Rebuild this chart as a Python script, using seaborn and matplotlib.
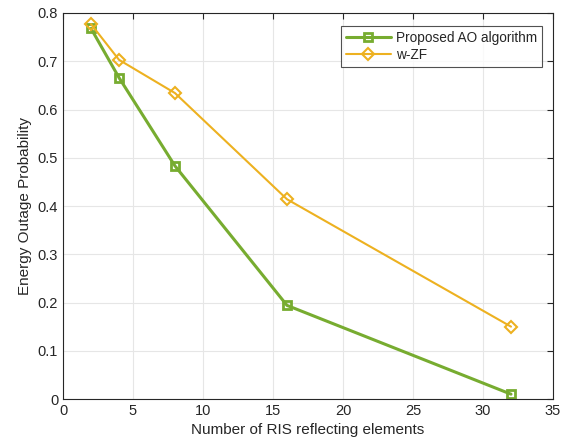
import pandas as pd
import seaborn as sns
import matplotlib.pyplot as plt

n_elements = [2, 4, 8, 16, 32]
proposed_ao = [0.768, 0.666, 0.483, 0.194, 0.010]
w_zf = [0.777, 0.703, 0.634, 0.414, 0.150]

df = pd.DataFrame({"N": n_elements * 2,
                   "p": proposed_ao + w_zf,
                   "method": ["Proposed AO algorithm"] * 5 + ["w-ZF"] * 5})

sns.set_style("whitegrid", {"grid.color": "#e6e6e6", "axes.edgecolor": "#262626"})
plt.rcParams["font.family"] = ["Liberation Sans", "DejaVu Sans"]

fig = plt.figure(figsize=(5.68, 4.48), dpi=100)
ax = fig.add_axes([63 / 568, 49 / 448, 490 / 568, 386 / 448])

ax = sns.lineplot(data=df, x="N", y="p", hue="method", style="method",
                  palette=["#77AC30", "#EDB120"], markers=["s", "D"], dashes=False,
                  ax=ax)
lws = [2.2, 1.5]
mss = [5.5, 6.5]
mews = [2.0, 1.5]
for line, lw, ms, mew in zip(ax.lines[:2], lws, mss, mews):
    line.set_linewidth(lw)
    line.set_markersize(ms)
    line.set_markerfacecolor("none")
    line.set_markeredgecolor(line.get_color())
    line.set_markeredgewidth(mew)

ax.set_xlim(0, 35)
ax.set_ylim(0, 0.8)
ax.set_xticks(range(0, 36, 5))
ax.set_yticks([0, 0.1, 0.2, 0.3, 0.4, 0.5, 0.6, 0.7, 0.8])
ax.set_yticklabels(["0", "0.1", "0.2", "0.3", "0.4", "0.5", "0.6", "0.7", "0.8"])
ax.tick_params(labelsize=10.5, colors="#262626", direction="in", length=4,
               top=True, right=True)
ax.set_xlabel("Number of RIS reflecting elements", fontsize=11, color="#262626")
ax.set_ylabel("Energy Outage Probability", fontsize=11, color="#262626")
for s in ax.spines.values():
    s.set_linewidth(0.8)

leg = ax.legend(loc="upper right", bbox_to_anchor=(0.9775, 0.967), fontsize=9.8,
                frameon=True, fancybox=False, edgecolor="#262626",
                handlelength=3.3, handletextpad=0.4, borderpad=0.35,
                labelspacing=0.25, borderaxespad=0)
leg.get_frame().set_linewidth(0.8)
for h, lw, mew in zip(leg.legend_handles, lws, mews):
    h.set_linewidth(lw)
    h.set_markerfacecolor("none")
    h.set_markeredgecolor(h.get_color())
    h.set_markeredgewidth(mew)

plt.savefig("out.png", dpi=100)
